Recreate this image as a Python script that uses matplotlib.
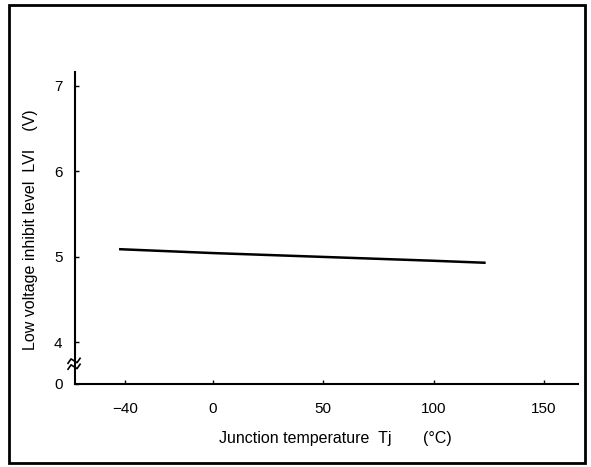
import matplotlib.pyplot as plt
from matplotlib.patches import Rectangle

plt.rcParams['font.family'] = ['Liberation Sans', 'DejaVu Sans']

# data
temp = [-42, 0, 50, 100, 123]
lvi = [5.09, 5.045, 5.0, 4.955, 4.932]

xticks = [-40, 0, 50, 100, 150]
xtick_labels = ['\u221240', '0', '50', '100', '150']
yticks = [3.515, 4, 5, 6, 7]
ytick_labels = ['0', '4', '5', '6', '7']

fig = plt.figure(figsize=(5.91, 4.67), dpi=100)
ax = fig.add_axes([0.127, 0.178, 0.851, 0.668])

ax.plot(temp, lvi, color='black', lw=1.8)

ax.set_xlim(-62.5, 165.4)
ax.set_ylim(3.515, 7.164)
ax.set_xticks(xticks)
ax.set_xticklabels(xtick_labels)
ax.set_yticks(yticks)
ax.set_yticklabels(ytick_labels)
ax.tick_params(direction='in', length=3, width=1, labelsize=11, colors='black')
ax.tick_params(axis='x', pad=13)
ax.tick_params(axis='y', pad=9)

for s in ['top', 'right']:
    ax.spines[s].set_visible(False)
for s in ['left', 'bottom']:
    ax.spines[s].set_linewidth(1.5)

# axis break marks (between 0 and 4)
for yb in [0.055, 0.074]:
    xs = [-0.014, -0.008, -0.002, 0.004, 0.01]
    ys = [yb - 0.008, yb + 0.006, yb, yb - 0.006, yb + 0.008]
    ax.plot(xs, ys, transform=ax.transAxes, color='black', lw=1.2, clip_on=False)

fig.text(0.052, 0.508, 'Low voltage inhibit level  LVI    (V)', rotation=90,
         ha='center', va='center', fontsize=11.5)
fig.text(0.568, 0.062, 'Junction temperature  Tj       (\u00b0C)',
         ha='center', va='center', fontsize=11.5)

# outer frame
fig.patches.append(Rectangle((9 / 591, 1 - 463 / 467), 576 / 591, 458 / 467,
                             transform=fig.transFigure, fill=False,
                             edgecolor='black', lw=2))

fig.savefig('out.png', dpi=100)
